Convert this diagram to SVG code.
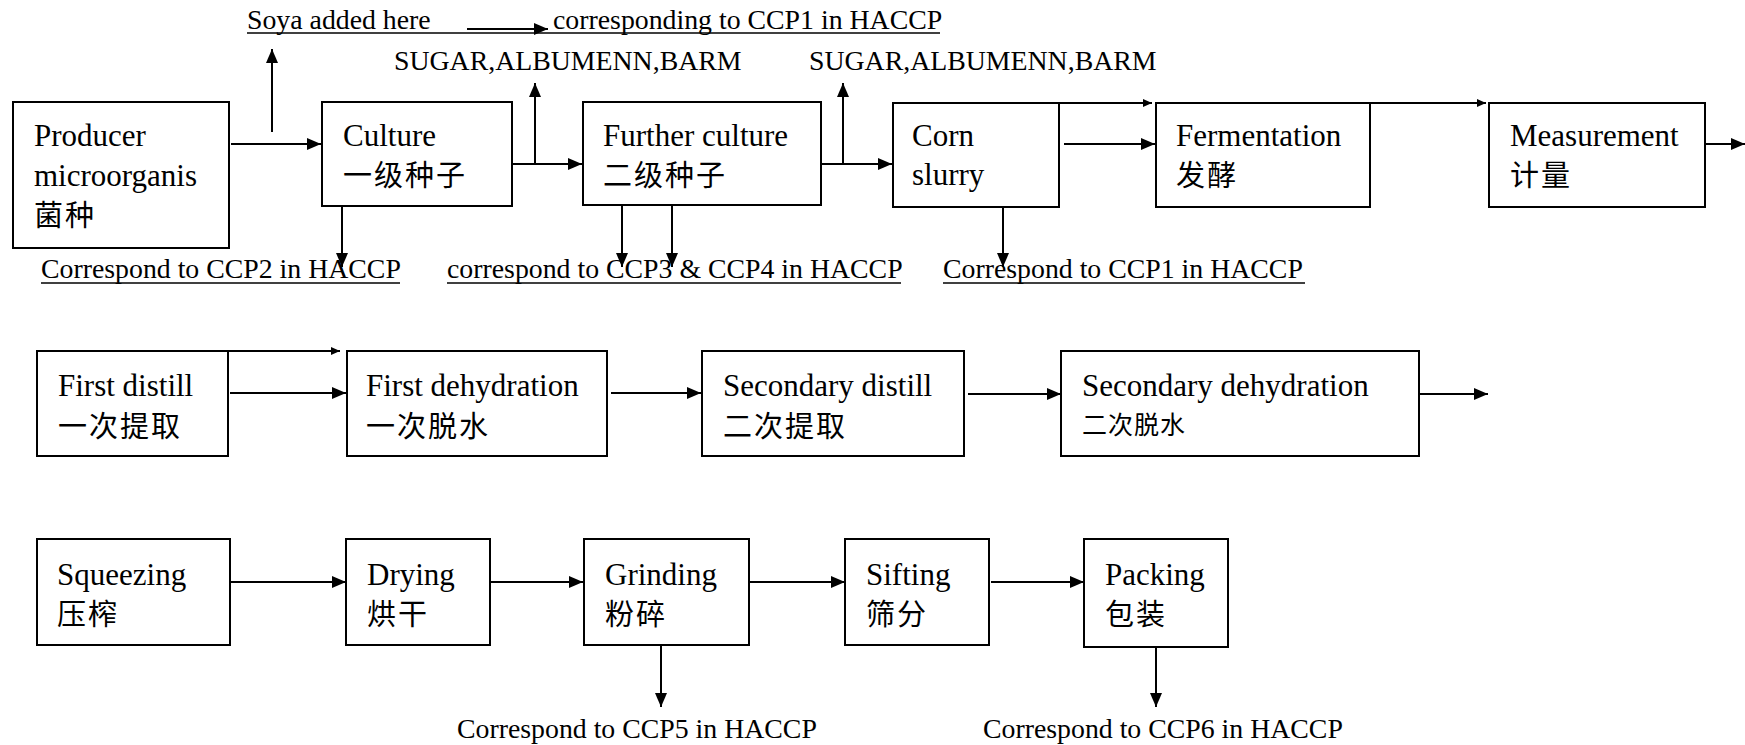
<svg xmlns="http://www.w3.org/2000/svg" width="1745" height="745" viewBox="0 0 1745 745">
<style>
.box{fill:#fff;stroke:#000;stroke-width:2}
.t{font-family:"Liberation Serif","Times New Roman",serif;font-size:31px;fill:#000}
.c{font-family:"Noto Sans CJK SC","Noto Sans CJK TC",sans-serif;font-size:29px;letter-spacing:2px;fill:#000}
.lb{font-family:"Liberation Serif","Times New Roman",serif;font-size:27.8px;fill:#000}
.ln{fill:none;stroke:#000;stroke-width:2}
.ul{stroke:#000;stroke-width:1.5}
</style>
<defs>
<marker id="ah" viewBox="0 0 14 12" refX="14" refY="6" markerWidth="14" markerHeight="12" markerUnits="userSpaceOnUse" orient="auto"><path d="M0,0 L14,6 L0,12 z" fill="#000"/></marker>
<marker id="sm" viewBox="0 0 9 8" refX="9" refY="4" markerWidth="9" markerHeight="8" markerUnits="userSpaceOnUse" orient="auto"><path d="M0,0 L9,4 L0,8 z" fill="#000"/></marker>
</defs>
<rect width="1745" height="745" fill="#fff"/>

<g id="labels">
<text class="lb" x="247" y="29">Soya added here</text>
<text class="lb" x="553" y="29">corresponding to CCP1 in HACCP</text>
<line class="ul" x1="247" y1="33" x2="940" y2="33"/>
<text class="lb" x="394" y="70">SUGAR,ALBUMENN,BARM</text>
<text class="lb" x="809" y="70">SUGAR,ALBUMENN,BARM</text>
<text class="lb" x="41" y="278">Correspond to CCP2 in HACCP</text>
<line class="ul" x1="41" y1="283" x2="400" y2="283"/>
<text class="lb" x="447" y="278">correspond to CCP3 &amp; CCP4 in HACCP</text>
<line class="ul" x1="447" y1="283" x2="901" y2="283"/>
<text class="lb" x="943" y="278">Correspond to CCP1 in HACCP</text>
<line class="ul" x1="943" y1="283" x2="1305" y2="283"/>
<text class="lb" x="457" y="738">Correspond to CCP5 in HACCP</text>
<text class="lb" x="983" y="738">Correspond to CCP6 in HACCP</text>
</g>

<g id="producer">
<rect class="box" x="13" y="102" width="216" height="146"/>
<text class="t" x="34" y="146">Producer</text>
<text class="t" x="34" y="186">microorganis</text>
<text class="c" x="34" y="226">菌种</text>
</g>
<g id="culture">
<rect class="box" x="322" y="102" width="190" height="104"/>
<text class="t" x="343" y="146">Culture</text>
<text class="c" x="343" y="186">一级种子</text>
</g>
<g id="further">
<rect class="box" x="583" y="102" width="238" height="103"/>
<text class="t" x="603" y="146">Further culture</text>
<text class="c" x="603" y="186">二级种子</text>
</g>
<g id="corn">
<rect class="box" x="893" y="103" width="166" height="104"/>
<text class="t" x="912" y="146">Corn</text>
<text class="t" x="912" y="185">slurry</text>
</g>
<g id="fermentation">
<rect class="box" x="1156" y="103" width="214" height="104"/>
<text class="t" x="1176" y="146">Fermentation</text>
<text class="c" x="1176" y="186">发酵</text>
</g>
<g id="measurement">
<rect class="box" x="1489" y="103" width="216" height="104"/>
<text class="t" x="1510" y="146">Measurement</text>
<text class="c" x="1510" y="186">计量</text>
</g>

<g id="first-distill">
<rect class="box" x="37" y="351" width="191" height="105"/>
<text class="t" x="58" y="396">First distill</text>
<text class="c" x="58" y="437">一次提取</text>
</g>
<g id="first-dehydration">
<rect class="box" x="347" y="351" width="260" height="105"/>
<text class="t" x="366" y="396">First dehydration</text>
<text class="c" x="366" y="437">一次脱水</text>
</g>
<g id="secondary-distill">
<rect class="box" x="702" y="351" width="262" height="105"/>
<text class="t" x="723" y="396">Secondary distill</text>
<text class="c" x="723" y="437">二次提取</text>
</g>
<g id="secondary-dehydration">
<rect class="box" x="1061" y="351" width="358" height="105"/>
<text class="t" x="1082" y="396">Secondary dehydration</text>
<text class="c" x="1082" y="434" style="font-size:25px;letter-spacing:1px">二次脱水</text>
</g>

<g id="squeezing">
<rect class="box" x="37" y="539" width="193" height="106"/>
<text class="t" x="57" y="585">Squeezing</text>
<text class="c" x="57" y="625">压榨</text>
</g>
<g id="drying">
<rect class="box" x="346" y="539" width="144" height="106"/>
<text class="t" x="367" y="585">Drying</text>
<text class="c" x="367" y="625">烘干</text>
</g>
<g id="grinding">
<rect class="box" x="584" y="539" width="165" height="106"/>
<text class="t" x="605" y="585">Grinding</text>
<text class="c" x="605" y="625">粉碎</text>
</g>
<g id="sifting">
<rect class="box" x="845" y="539" width="144" height="106"/>
<text class="t" x="866" y="585">Sifting</text>
<text class="c" x="866" y="625">筛分</text>
</g>
<g id="packing">
<rect class="box" x="1084" y="539" width="144" height="108"/>
<text class="t" x="1105" y="585">Packing</text>
<text class="c" x="1105" y="625">包装</text>
</g>

<g id="connectors">
<path class="ln" d="M467,29 H548" marker-end="url(#ah)"/>
<path class="ln" d="M231,144 H321" marker-end="url(#ah)"/>
<path class="ln" d="M272,132 V49" marker-end="url(#ah)"/>
<path class="ln" d="M512,164 H582" marker-end="url(#ah)"/>
<path class="ln" d="M535,164 V83" marker-end="url(#ah)"/>
<path class="ln" d="M342,206 V267" marker-end="url(#ah)"/>
<path class="ln" d="M622,205 V267" marker-end="url(#ah)"/>
<path class="ln" d="M672,205 V267" marker-end="url(#ah)"/>
<path class="ln" d="M821,164 H892" marker-end="url(#ah)"/>
<path class="ln" d="M843,164 V83" marker-end="url(#ah)"/>
<path class="ln" d="M1064,144 H1155" marker-end="url(#ah)"/>
<path class="ln" d="M1059,103 H1152" marker-end="url(#sm)"/>
<path class="ln" d="M1003,207 V267" marker-end="url(#ah)"/>
<path class="ln" d="M1370,103 H1486" marker-end="url(#sm)"/>
<path class="ln" d="M1705,144 H1745" marker-end="url(#ah)"/>
<path class="ln" d="M230,393 H346" marker-end="url(#ah)"/>
<path class="ln" d="M228,351 H340" marker-end="url(#sm)"/>
<path class="ln" d="M611,393 H701" marker-end="url(#ah)"/>
<path class="ln" d="M968,394 H1061" marker-end="url(#ah)"/>
<path class="ln" d="M1419,394 H1488" marker-end="url(#ah)"/>
<path class="ln" d="M231,582 H346" marker-end="url(#ah)"/>
<path class="ln" d="M491,582 H583" marker-end="url(#ah)"/>
<path class="ln" d="M749,582 H845" marker-end="url(#ah)"/>
<path class="ln" d="M991,582 H1084" marker-end="url(#ah)"/>
<path class="ln" d="M661,645 V707" marker-end="url(#ah)"/>
<path class="ln" d="M1156,647 V707" marker-end="url(#ah)"/>
</g>
</svg>
